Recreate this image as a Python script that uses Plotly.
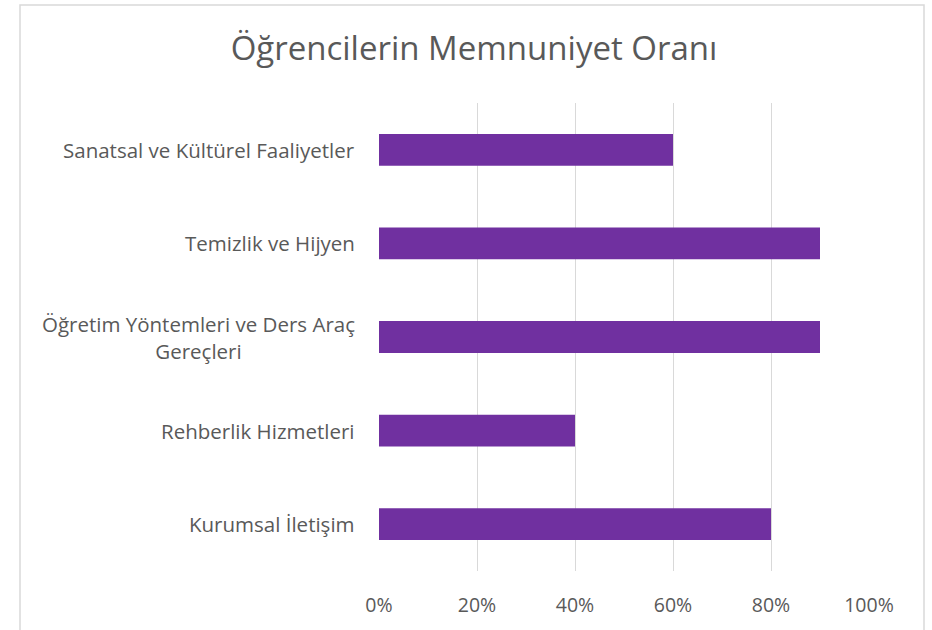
import plotly.graph_objects as go

categories = ["Kurumsal İletişim", "Rehberlik Hizmetleri",
              "Öğretim Yöntemleri ve Ders Araç Gereçleri",
              "Temizlik ve Hijyen", "Sanatsal ve Kültürel Faaliyetler"]
label_text = ["Kurumsal İletişim", "Rehberlik Hizmetleri",
              "Öğretim Yöntemleri ve Ders Araç<br>Gereçleri",
              "Temizlik ve Hijyen", "Sanatsal ve Kültürel Faaliyetler"]
values = [0.80, 0.40, 0.90, 0.90, 0.60]
x_ticks = [0, 0.2, 0.4, 0.6, 0.8, 1.0]
x_tick_labels = ["0%", "20%", "40%", "60%", "80%", "100%"]
title = "Öğrencilerin Memnuniyet Oranı"

W, H = 932, 630
L, T = 379, 103
pw, ph = 490, 468
R, B = W - L - pw, H - T - ph

FONT = "Open Sans"
TXT = "#595959"

fig = go.Figure(go.Bar(
    y=categories, x=values, orientation="h",
    marker=dict(color="#7030A0", line=dict(width=0)),
    hoverinfo="x+y",
))

annotations = []
for c, t in zip(categories, label_text):
    annotations.append(dict(
        x=(357 - L) / pw, xref="paper", y=c, yref="y",
        text=t, showarrow=False, xanchor="right", yanchor="middle",
        align="center", font=dict(family=FONT, size=20.5, color=TXT)))

fig.update_layout(
    width=W, height=H,
    margin=dict(l=L, r=R, t=T, b=B, autoexpand=False),
    paper_bgcolor="white", plot_bgcolor="white",
    bargap=0.66,
    showlegend=False,
    title=dict(text=title, x=474 / W, xanchor="center",
               y=1 - 48 / H, yanchor="middle",
               font=dict(family=FONT, size=33, color=TXT)),
    xaxis=dict(range=[0, 1.0], tickvals=x_ticks, ticktext=x_tick_labels,
               showgrid=True, gridcolor="#d9d9d9", gridwidth=1,
               zeroline=False, showline=False, ticks="",
               ticklabelstandoff=20,
               tickfont=dict(family=FONT, size=19.5, color=TXT)),
    yaxis=dict(showticklabels=False, showgrid=False, zeroline=False,
               showline=False, ticks="", range=[-0.5, 4.5]),
    annotations=annotations,
    shapes=[dict(type="rect", xref="paper", yref="paper",
                 x0=(20 - L) / pw, x1=(924 - L) / pw,
                 y0=-(100) / ph, y1=(571 - 5) / ph,
                 line=dict(color="#d9d9d9", width=1.5), layer="below")],
)

fig.write_html("out.html",
               config={"displayModeBar": False},
               post_script="document.body.style.margin='0';"
                           "document.body.style.overflow='hidden';")
